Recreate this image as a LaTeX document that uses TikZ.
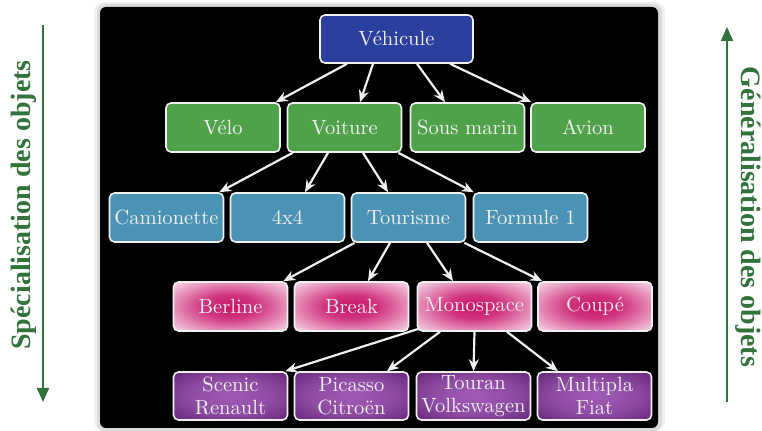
\documentclass[tikz,border=0pt]{standalone}
\usepackage{fontspec}
\newfontfamily\sidefont{Liberation Serif}
\usetikzlibrary{calc,arrows.meta}

\definecolor{vehblue}{RGB}{42,63,158}
\definecolor{levgreen}{RGB}{80,162,74}
\definecolor{levteal}{RGB}{74,147,181}
\definecolor{pinkin}{RGB}{200,20,105}
\definecolor{pinkout}{RGB}{252,238,245}
\definecolor{purpin}{RGB}{160,90,180}
\definecolor{purpout}{RGB}{78,20,98}
\definecolor{sidegreen}{RGB}{50,115,60}
\definecolor{boxtext}{RGB}{240,240,240}

\pgfdeclareradialshading{pinkglow}{\pgfpoint{0bp}{0bp}}{%
	color(0bp)=(pinkin); color(12bp)=(pinkin!85!pinkout); color(38bp)=(pinkout); color(50bp)=(pinkout)}
\pgfdeclareradialshading{purpglow}{\pgfpoint{0bp}{0bp}}{%
	color(0bp)=(purpin); color(18bp)=(purpin!80!purpout); color(45bp)=(purpout); color(50bp)=(purpout)}

\tikzset{
	classbox/.style={draw=boxtext, line width=0.8pt, rounded corners=2.5pt, text=boxtext,
		minimum width=57pt, minimum height=24.5pt, inner sep=1pt, align=center,
		font=\fontsize{10.3}{11.5}\selectfont},
	root/.style={classbox, fill=vehblue, minimum width=76.5pt, minimum height=24pt},
	lvltwo/.style={classbox, fill=levgreen},
	lvlthree/.style={classbox, fill=levteal},
	lvlfour/.style={classbox, shading=pinkglow},
	lvlfive/.style={classbox, shading=purpglow, minimum height=24pt},
	link/.style={draw=boxtext, line width=1.1pt, -{Stealth[length=6pt,width=5pt]}},
	sidearrow/.style={draw=sidegreen, line width=1.1pt, -{Triangle[length=7pt,width=6pt]}},
	sidelabel/.style={text=sidegreen, font=\sidefont\bfseries\fontsize{14}{16}\selectfont}
}

\begin{document}
\begin{tikzpicture}[x=0.5pt,y=-0.5pt]
	\useasboundingbox (0,0) rectangle (762,431);
	
	%panel
	\fill[black!6, rounded corners=5pt] (94,2) rectangle (665,431);
	\fill[black!14, rounded corners=4pt] (97,4) rectangle (662,431);
	\fill[black, rounded corners=3pt] (100,7) rectangle (658,428);
	
	%classes
	\node[root] (veh) at (396.5,39) {Véhicule};
	
	\node[lvltwo] (velo) at (223,127.5) {Vélo};
	\node[lvltwo] (voiture) at (344.5,127.5) {Voiture};
	\node[lvltwo] (sousmarin) at (467.5,127.5) {Sous marin};
	\node[lvltwo] (avion) at (588,127.5) {Avion};
	
	\node[lvlthree] (camionette) at (166.5,217.5) {Camionette};
	\node[lvlthree] (quatre) at (287.5,217.5) {4x4};
	\node[lvlthree] (tourisme) at (408.5,217.5) {Tourisme};
	\node[lvlthree] (formule) at (530.5,217.5) {Formule 1};
	
	\node[lvlfour] (berline) at (230.5,306.5) {Berline};
	\node[lvlfour] (break) at (351.5,306.5) {Break};
	\node[lvlfour] (monospace) at (474.5,306.5) {Monospace};
	\node[lvlfour] (coupe) at (595,306.5) {Coupé};
	
	\node[lvlfive] (scenic) at (230.5,396) {Scenic\\Renault};
	\node[lvlfive] (picasso) at (351.5,396) {Picasso\\Citroën};
	\node[lvlfive] (touran) at (473.5,396) {Touran\\Volkswagen};
	\node[lvlfive] (multipla) at (594.5,396) {Multipla\\Fiat};
	
	%inheritance links
	\draw[link] ($(veh.south)+(-49.5,0)$) -- ($(velo.north east)+(-5,0)$);
	\draw[link] ($(veh.south)+(-23.5,0)$) -- ($(voiture.north)+(15.5,0)$);
	\draw[link] ($(veh.south)+(20.5,0)$) -- ($(sousmarin.north)+(-22.5,0)$);
	\draw[link] ($(veh.south)+(53.5,0)$) -- ($(avion.north west)+(1,0)$);
	
	\draw[link] ($(voiture.south west)+(6,0)$) -- ($(camionette.north east)+(-5,0)$);
	\draw[link] ($(voiture.south)+(-16.5,0)$) -- ($(quatre.north)+(17.5,0)$);
	\draw[link] ($(voiture.south)+(18.5,0)$) -- ($(tourisme.north)+(-20.5,0)$);
	\draw[link] ($(voiture.south east)+(-4,0)$) -- ($(formule.north west)+(1,0)$);
	
	\draw[link] ($(tourisme.south west)+(4,0)$) -- ($(berline.north east)+(-5,0)$);
	\draw[link] ($(tourisme.south)+(-18.5,0)$) -- ($(break.north)+(16.5,0)$);
	\draw[link] ($(tourisme.south)+(18.5,0)$) -- ($(monospace.north)+(-21.5,0)$);
	\draw[link] ($(tourisme.south east)+(-2,0)$) -- ($(coupe.north west)+(5,0)$);
	
	\draw[link] ($(monospace.south west)+(2,-3)$) -- ($(scenic.north east)+(-3,0)$);
	\draw[link] ($(monospace.south)+(-34.5,0)$) -- ($(picasso.north)+(35.5,0)$);
	\draw[link] (monospace.south) -- (touran.north);
	\draw[link] ($(monospace.south)+(32.5,0)$) -- ($(multipla.north)+(-36.5,0)$);
	
	%side arrows
	\coordinate (spectop) at (43,25);
	\coordinate (specbot) at (43,402);
	\coordinate (genbot) at (727,402);
	\coordinate (gentop) at (727,27);
	\draw[sidearrow] (spectop) -- (specbot);
	\draw[sidearrow] (genbot) -- (gentop);
	\node[sidelabel, rotate=90] (spec) at (24,205) {Spécialisation des objets};
	\node[sidelabel, rotate=-90] (gen) at (748,217) {Généralisation des objets};
\end{tikzpicture}
\end{document}
